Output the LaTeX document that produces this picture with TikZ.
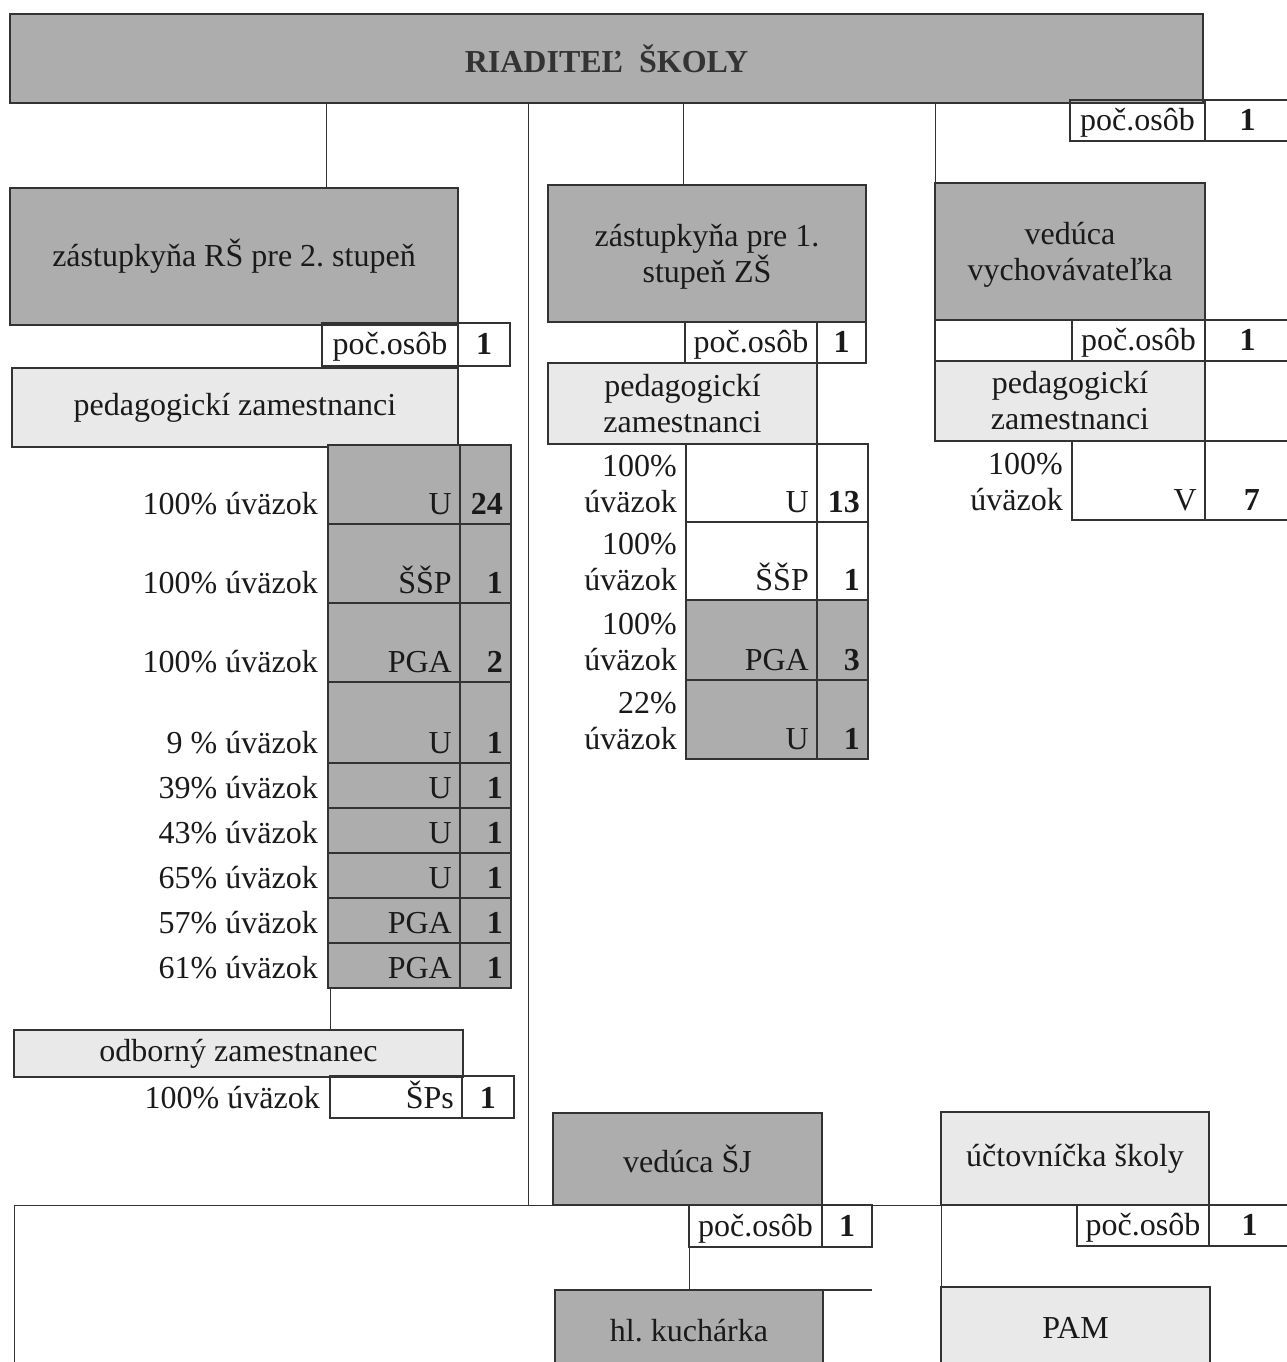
\documentclass[tikz,border=0pt]{standalone}
\usepackage{fontspec}
\setmainfont{Liberation Serif}
\frenchspacing
\definecolor{dark}{HTML}{ADADAD}
\definecolor{light}{HTML}{E9E9E9}
\definecolor{linec}{HTML}{333333}
\definecolor{txt}{HTML}{1A1A1A}
\begin{document}
\begin{tikzpicture}[x=1pt,y=-1pt,
  font=\fontsize{32}{36}\selectfont, text=txt,
  box/.style={draw=linec, line width=1.3pt, inner sep=0pt, outer sep=0pt, anchor=north west, align=center},
  dbox/.style={box, fill=dark},
  lbox/.style={box, fill=light},
  pob/.style={box, text height=27pt, text depth=7pt},
  conn/.style={draw=linec, line width=1pt},
  lab/.style={anchor=base east, inner sep=0pt},
  num/.style={font=\fontsize{32}{36}\selectfont\bfseries}
]
\useasboundingbox (0,0) rectangle (1287,1362);
\fill[white] (0,0) rectangle (1287,1362);

% ---------- director ----------
\node[dbox, minimum width=1193, minimum height=89] (dir) at (10,14) {\textcolor{black!80}{\bfseries RIADITEĽ\ \ ŠKOLY}};
\node[pob, minimum width=135, minimum height=41] (dpa) at (1070,100) {poč.osôb};
\node[pob, minimum width=85, minimum height=41, num] (dpb) at (1205,100) {1};

% ---------- column 1 ----------
\node[dbox, minimum width=448, minimum height=137] (z2) at (10,188) {zástupkyňa RŠ pre 2. stupeň};
\node[pob, minimum width=136, minimum height=43] (z2pa) at (322,323) {poč.osôb};
\node[pob, minimum width=52, minimum height=43, num] (z2pb) at (458,323) {1};
\node[lbox, minimum width=446, minimum height=79] (ped2) at (12,368) {pedagogickí zamestnanci};

\foreach \i/\y/\h/\p/\t/\n in {
  1/445/79/100\% úväzok/U/24,
  2/524/79/100\% úväzok/ŠŠP/1,
  3/603/79/100\% úväzok/PGA/2,
  4/682/81/9 \% úväzok/U/1,
  5/763/45/39\% úväzok/U/1,
  6/808/45/43\% úväzok/U/1,
  7/853/45/65\% úväzok/U/1,
  8/898/45/57\% úväzok/PGA/1,
  9/943/45/61\% úväzok/PGA/1}{
  \node[dbox, minimum width=132, minimum height=\h] (a\i) at (328,\y) {};
  \node[dbox, minimum width=51, minimum height=\h] (b\i) at (460,\y) {};
  \node[lab] (ta\i) at ([xshift=-8pt,yshift=10pt]a\i.south east) {\t};
  \node[lab, num] (tb\i) at ([xshift=-8pt,yshift=10pt]b\i.south east) {\n};
  \node[lab] (pa\i) at ([xshift=-10pt,yshift=10pt]a\i.south west) {\p};
}

\node[lbox, minimum width=449, minimum height=47] (odb) at (14,1030) {odborný zamestnanec};
\draw[conn] ([xshift=2pt]a9.south west) -- ([xshift=2pt]a9.south west |- odb.north);
\node[box, minimum width=132, minimum height=42] (sa) at (330,1076) {};
\node[box, minimum width=52, minimum height=42] (sb) at (462,1076) {};
\node[lab] (tsa) at ([xshift=-8pt,yshift=10pt]sa.south east) {ŠPs};
\node[lab, num] (tsb) at ([xshift=-18pt,yshift=10pt]sb.south east) {1};
\node[lab] (psa) at ([xshift=-10pt,yshift=10pt]sa.south west) {100\% úväzok};

% ---------- column 2 ----------
\node[dbox, minimum width=318, minimum height=137, text depth=0pt] (z1) at (548,185) {zástupkyňa pre 1.\\stupeň ZŠ};
\node[pob, minimum width=132, minimum height=41] (z1pa) at (685,322) {poč.osôb};
\node[pob, minimum width=49, minimum height=41, num] (z1pb) at (817,322) {1};
\node[lbox, minimum width=269, minimum height=81] (ped1) at (548,363) {pedagogickí\\zamestnanci};

\foreach \i/\y/\h/\c/\p/\t/\n in {
  1/444/78/white/100\%/U/13,
  2/522/78/white/100\%/ŠŠP/1,
  3/600/80/dark/100\%/PGA/3,
  4/680/79/dark/22\%/U/1}{
  \node[box, fill=\c, minimum width=131, minimum height=\h] (c\i) at (686,\y) {};
  \node[box, fill=\c, minimum width=51, minimum height=\h] (d\i) at (817,\y) {};
  \node[lab] (tc\i) at ([xshift=-8pt,yshift=10pt]c\i.south east) {\t};
  \node[lab, num] (td\i) at ([xshift=-8pt,yshift=10pt]d\i.south east) {\n};
  \node[lab] (qc\i) at ([xshift=-9pt,yshift=10pt]c\i.south west) {úväzok};
  \node[lab] (rc\i) at ([xshift=-9pt,yshift=46pt]c\i.south west) {\p};
}

% ---------- column 3 ----------
\node[dbox, minimum width=270, minimum height=137, text depth=0pt] (vv) at (935,183) {vedúca\\vychovávateľka};
\node[box, minimum width=137, minimum height=41] (vvp0) at (935,320) {};
\node[pob, minimum width=133, minimum height=41] (vvpa) at (1072,320) {poč.osôb};
\node[pob, minimum width=85, minimum height=41, num] (vvpb) at (1205,320) {1};
\node[lbox, minimum width=270, minimum height=80] (ped3) at (935,361) {pedagogickí\\zamestnanci};
\node[box, minimum width=133, minimum height=79] (e1) at (1072,441) {};
\node[box, minimum width=85, minimum height=79] (f1) at (1205,441) {};
\node[lab] (te1) at ([xshift=-8pt,yshift=10pt]e1.south east) {V};
\node[lab, num] (tf1) at ([xshift=-30pt,yshift=10pt]f1.south east) {7};
\node[lab] (qe1) at ([xshift=-9pt,yshift=10pt]e1.south west) {úväzok};
\node[lab] (re1) at ([xshift=-9pt,yshift=46pt]e1.south west) {100\%};

% ---------- bottom ----------
\coordinate (busL) at (14,1205);
\coordinate (busR) at (1290,1205);
\coordinate (busLB) at (14,1370);
\coordinate (bus) at (528,1205);

\node[dbox, minimum width=269, minimum height=92] (sj) at (553,1113) {vedúca ŠJ};
\node[pob, minimum width=133, minimum height=42] (sjpa) at (689,1205) {poč.osôb};
\node[pob, minimum width=50, minimum height=42, num] (sjpb) at (822,1205) {1};
\node[dbox, minimum width=268, minimum height=82] (hk) at (555,1290) {hl. kuchárka};
\draw[conn] (sjpa.south west) -- (sjpa.south west |- hk.north);
\draw[draw=linec, line width=1.6pt] (hk.north east) -- ([xshift=49pt]hk.north east);

\node[lbox, minimum width=268, minimum height=93] (uct) at (941,1112) {účtovníčka školy};
\node[pob, minimum width=132, minimum height=41] (ucpa) at (1077,1205) {poč.osôb};
\node[pob, minimum width=81, minimum height=41, num] (ucpb) at (1209,1205) {1};
\node[lbox, minimum width=269, minimum height=82] (pam) at (941,1287) {PAM};
\draw[conn] (uct.south west) -- (pam.north west);

\draw[conn] (busLB) -- (busL) -- (busR);

% ---------- connectors from director ----------
\draw[conn] ([xshift=92pt]z2.north) -- ([xshift=92pt]z2.north |- dir.south);
\draw[conn] (dir.south -| bus) -- (bus);
\draw[conn] ([xshift=-24pt]z1.north) -- ([xshift=-24pt]z1.north |- dir.south);
\draw[conn] (vv.north west) -- (vv.north west |- dir.south);
\end{tikzpicture}
\end{document}
